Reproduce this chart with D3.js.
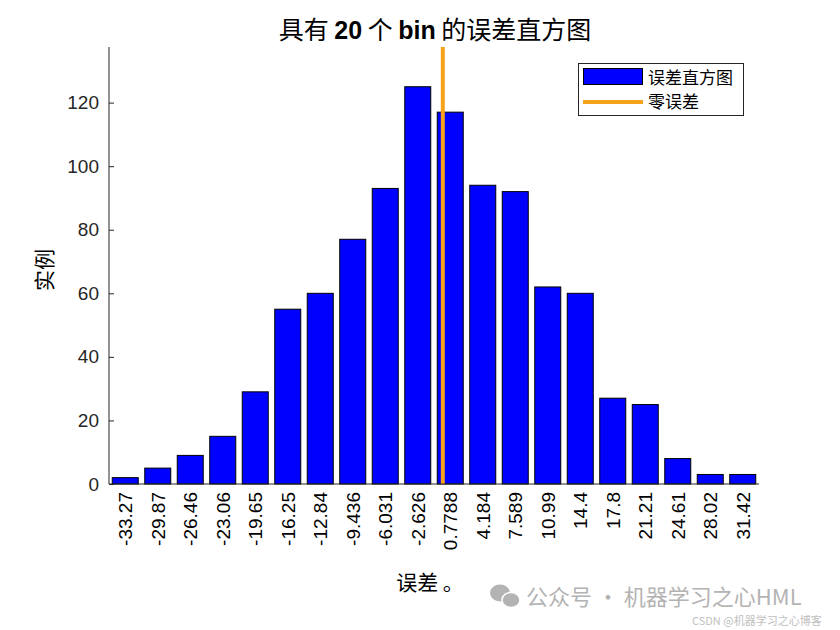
<!DOCTYPE html>
<html><head><meta charset="utf-8">
<script src="https://cdn.jsdelivr.net/npm/d3@7"></script>
<style>body{margin:0;background:#fff}svg{display:block}</style>
</head><body><svg id="c" width="840" height="630"></svg>
<script>
const binLabels = ["-33.27","-29.87","-26.46","-23.06","-19.65","-16.25","-12.84","-9.436","-6.031","-2.626","0.7788","4.184","7.589","10.99","14.4","17.8","21.21","24.61","28.02","31.42"];
const binCenters = [-33.27,-29.87,-26.46,-23.06,-19.65,-16.25,-12.84,-9.436,-6.031,-2.626,0.7788,4.184,7.589,10.99,14.4,17.8,21.21,24.61,28.02,31.42];
const counts = [2,5,9,15,29,55,60,77,93,125,117,94,92,62,60,27,25,8,3,3];
const yTicks = [0,20,40,60,80,100,120];
const zeroError = 0;

const svg = d3.select("#c");
const L = 109, R = 759, T = 47, B = 484;
const x = d3.scaleLinear().domain([0.5, 20.5]).range([L, R]);
const y = d3.scaleLinear().domain([0, 137.5]).range([B, T]);
const latin = "Liberation Sans, Arial, sans-serif";
const cjk = "Noto Sans CJK SC, sans-serif";
const txt = "#262626";

// bars
svg.append("g").selectAll("rect").data(counts).join("rect")
  .attr("x", (d,i)=>x(i+1-0.4)).attr("width", (d,i)=>x(i+1+0.4)-x(i+1-0.4))
  .attr("y", d=>y(d)).attr("height", d=>y(0)-y(d))
  .attr("fill","#0000ff").attr("stroke","#000").attr("stroke-width",1);

// zero error line: interpolate between bin centers
const idx = d3.bisectLeft(binCenters, zeroError);
const pos = idx + (zeroError - binCenters[idx-1])/(binCenters[idx]-binCenters[idx-1]);
svg.append("line").attr("x1", x(pos)).attr("x2", x(pos)).attr("y1", T).attr("y2", B)
  .attr("stroke","#f7a21b").attr("stroke-width",4);

// y axis
const ya = d3.axisLeft(y).tickValues(yTicks).tickSize(-5).tickPadding(10);
const gy = svg.append("g").attr("transform",`translate(${L},0)`).call(ya);
gy.select(".domain").attr("d", `M0,${T}V${B}`).attr("stroke","#262626");
gy.selectAll(".tick line").attr("stroke","#262626");
gy.selectAll("text").attr("font-family",latin).attr("font-size",19).attr("fill",txt);

// x axis
const xa = d3.axisBottom(x).tickValues(d3.range(1,21)).tickFormat((d)=>binLabels[d-1]).tickSize(-5).tickPadding(0);
const gx = svg.append("g").attr("transform",`translate(0,${B})`).call(xa);
gx.select(".domain").attr("d", `M${L},0H${R}`).attr("stroke","#262626");
gx.selectAll(".tick line").attr("stroke","none");
gx.selectAll("text").attr("font-family",latin).attr("font-size",19).attr("fill","#000")
  .attr("transform","rotate(-90)").attr("text-anchor","end").attr("dy","0.35em").attr("x",-8).attr("y",0);

// title
const title = svg.append("text").attr("x",435).attr("y",39).attr("text-anchor","middle").attr("font-size",25).attr("fill","#000");
title.append("tspan").attr("font-family",cjk).text("具有 ");
title.append("tspan").attr("font-family",latin).attr("font-weight","bold").text("20");
title.append("tspan").attr("font-family",cjk).text(" 个 ");
title.append("tspan").attr("font-family",latin).attr("font-weight","bold").text("bin");
title.append("tspan").attr("font-family",cjk).text(" 的误差直方图");

// axis labels
svg.append("text").attr("transform","translate(52,270) rotate(-90)").attr("text-anchor","middle")
  .attr("font-family",cjk).attr("font-size",21).attr("fill","#000").text("实例");
svg.append("text").attr("x",430).attr("y",590).attr("text-anchor","middle")
  .attr("font-family",cjk).attr("font-size",21).attr("fill","#000").text("误差 。");

// legend
const lg = svg.append("g");
lg.append("rect").attr("x",578.5).attr("y",63.5).attr("width",165).attr("height",52).attr("fill","#fff").attr("stroke","#262626");
lg.append("rect").attr("x",583.5).attr("y",68.5).attr("width",59).attr("height",16).attr("fill","#0000ff").attr("stroke","#000");
lg.append("line").attr("x1",583).attr("x2",643).attr("y1",102).attr("y2",102).attr("stroke","#f7a21b").attr("stroke-width",4);
lg.append("text").attr("x",648).attr("y",84).attr("font-family",cjk).attr("font-size",17).attr("fill","#000").text("误差直方图");
lg.append("text").attr("x",648).attr("y",108).attr("font-family",cjk).attr("font-size",17).attr("fill","#000").text("零误差");

// watermark
const wm = svg.append("g").attr("fill","#b3b3b3");
wm.append("ellipse").attr("cx",500).attr("cy",593).attr("rx",10).attr("ry",8.5);
wm.append("ellipse").attr("cx",511).attr("cy",600).attr("rx",9).attr("ry",7.5).attr("stroke","#fff").attr("stroke-width",1.5);
wm.append("text").attr("x",526).attr("y",605).attr("font-family",cjk).attr("font-size",22).text("公众号 · 机器学习之心HML");
wm.append("text").attr("x",692).attr("y",625).attr("font-family",cjk).attr("font-size",11).attr("fill","#c0c0c0").text("CSDN @机器学习之心博客");
</script></body></html>
